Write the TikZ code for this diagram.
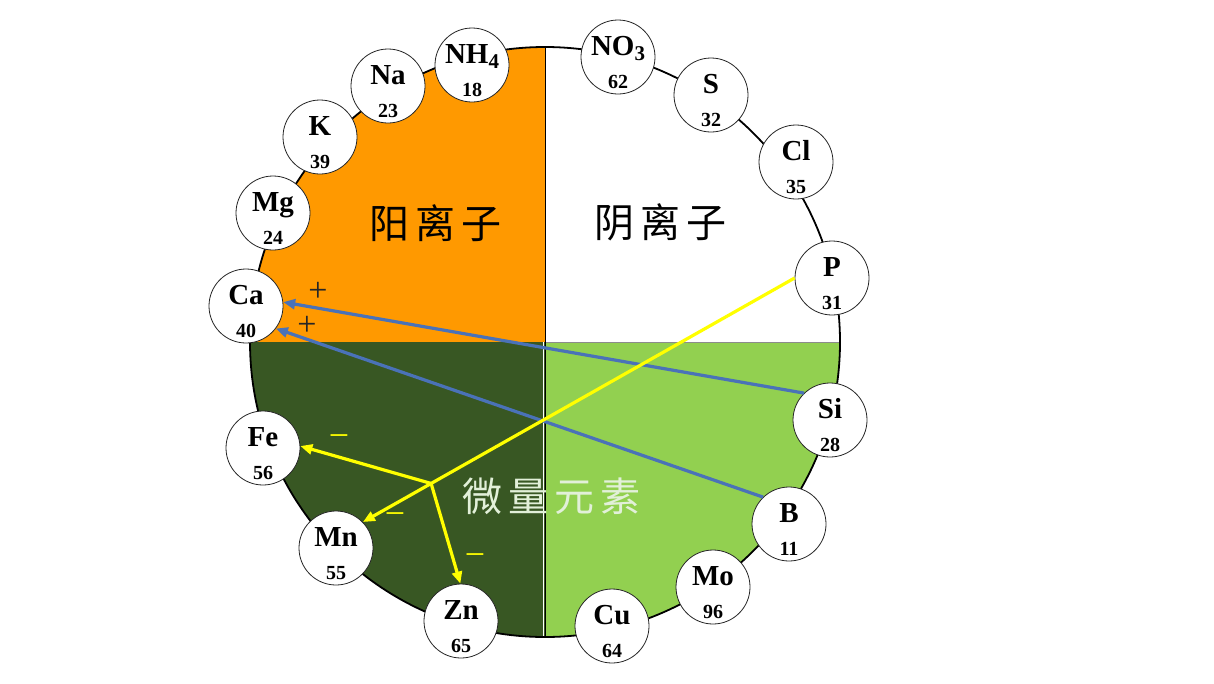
\documentclass[tikz,border=0pt]{standalone}
\usepackage{fontspec}
\setmainfont{Liberation Serif}
\newfontfamily\cjk{Noto Sans CJK SC}
\usetikzlibrary{arrows.meta,calc}
\definecolor{orng}{HTML}{FF9900}
\definecolor{dkgreen}{HTML}{385723}
\definecolor{ltgreen}{HTML}{92D050}
\definecolor{blueln}{HTML}{4A72B8}
\definecolor{yelln}{HTML}{FFFF00}
\definecolor{palegreen}{HTML}{E2F0D9}
\tikzset{
  elem/.style={circle, draw=black!85, line width=0.8pt, fill=white, minimum size=74pt, inner sep=0pt},
  sym/.style={anchor=base, font=\bfseries\fontsize{29}{30}\selectfont, inner sep=0pt},
  num/.style={anchor=base, font=\bfseries\fontsize{20}{22}\selectfont, inner sep=0pt},
  bluearrow/.style={draw=blueln, line width=3.2pt, -{Triangle[length=12pt,width=10pt]}},
  yelarrow/.style={draw=yelln, line width=3.2pt, -{Triangle[length=12pt,width=10pt]}},
  bigtext/.style={font=\cjk\fontsize{40}{40}\selectfont, inner sep=0pt},
  plussign/.style={font=\fontsize{34}{34}\selectfont, text=black!85, inner sep=0pt},
  minussign/.style={font=\fontsize{36}{36}\selectfont, text=yelln, inner sep=0pt}
}
\newcommand\elmt[4]{%
  \node[elem] (#1) at (#2) {};
  \node[sym] (#1-s) at ($(#1.center)+(0,-2)$) {#3};
  \node[num] (#1-n) at ($(#1.center)+(0,31)$) {#4};
}
\begin{document}
\begin{tikzpicture}[x=1pt,y=-1pt]
\useasboundingbox (0,0) rectangle (1214,683);
\fill[white] (0,0) rectangle (1214,683);
\coordinate (C) at (545,342);
% quadrants
\begin{scope}
  \clip (C) circle[radius=295pt];
  \fill[orng] (240,40) rectangle (545,342);
  \fill[white] (545,40) rectangle (850,342);
  \fill[dkgreen] (240,342) rectangle (545,650);
  \fill[ltgreen] (545,342) rectangle (850,650);
  \draw[black!45, line width=0.6pt] (545,342) -- (850,342);
\end{scope}
\draw[white, line width=1.2pt] (543.3,342) -- (543.3,636);
\draw[black, line width=1pt] (545,47) -- (545,637);
\draw[black, line width=1.8pt] (C) circle[radius=295pt];
% labels of quadrants
\node[bigtext] (cation) at (435,223) {阳\hspace{6pt}离\hspace{6pt}子};
\node[bigtext] (anion) at (660,222) {阴\hspace{6pt}离\hspace{6pt}子};
\node[bigtext, text=palegreen] (micro) at (551,496) {微\hspace{6pt}量\hspace{6pt}元\hspace{6pt}素};
% element circles
\elmt{NH4}{472,65}{NH\raisebox{-5pt}{\fontsize{21}{21}\selectfont 4}}{18}
\elmt{Na}{388,86}{Na}{23}
\elmt{K}{320,137}{K}{39}
\elmt{Mg}{273,213}{Mg}{24}
\elmt{Ca}{246,306}{Ca}{40}
\elmt{NO3}{618,57}{NO\raisebox{-5pt}{\fontsize{21}{21}\selectfont 3}}{62}
\elmt{S}{711,95}{S}{32}
\elmt{Cl}{796,162}{Cl}{35}
\elmt{P}{832,278}{P}{31}
\elmt{Si}{830,420}{Si}{28}
\elmt{B}{789,524}{B}{11}
\elmt{Mo}{713,587}{Mo}{96}
\elmt{Cu}{612,626}{Cu}{64}
\elmt{Zn}{461,621}{Zn}{65}
\elmt{Mn}{336,548}{Mn}{55}
\elmt{Fe}{263,448}{Fe}{56}
% blue arrows
\draw[bluearrow] (Si.134) -- (Ca.6);
\draw[bluearrow] (B.134) -- (Ca.-37);
% yellow arrows
\coordinate (J) at ($(P.180)!0.842!(Mn.44)$);
\draw[yelarrow] (P.180) -- (Mn.44);
\draw[yelarrow] (J) -- (Fe.3);
\draw[yelarrow] (J) -- (Zn.91);
% signs
\node[plussign] (p1) at (318,292) {+};
\node[plussign] (p2) at (307,326) {+};
\node[minussign] (m1) at (339,441) {−};
\node[minussign] (m2) at (395,519) {−};
\node[minussign] (m3) at (475,560) {−};
\end{tikzpicture}
\end{document}
